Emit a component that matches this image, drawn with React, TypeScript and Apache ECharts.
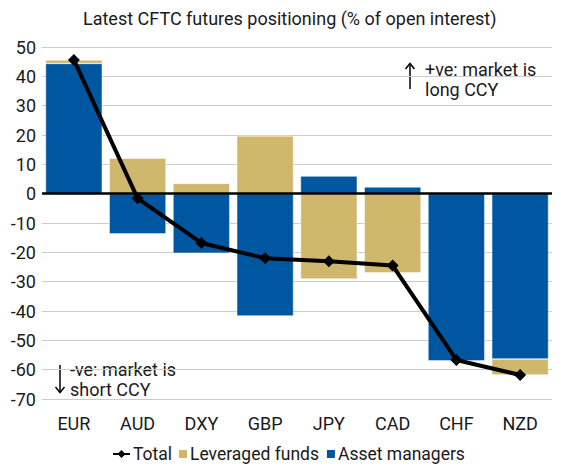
import React, { useEffect, useRef } from "react";
import * as echarts from "echarts";

const categories = ["EUR", "AUD", "DXY", "GBP", "JPY", "CAD", "CHF", "NZD"];
const assetManagers = [44.4, -13.7, -20.3, -41.7, 6.0, 2.3, -57.0, -56.4];
const leveragedFunds = [1.2, 12.1, 3.5, 19.7, -29.1, -27.0, 0.3, -5.4];
const total = [45.6, -1.6, -16.8, -22.0, -23.0, -24.5, -56.7, -61.8];

const BLUE = "#0057A1";
const TAN = "#CFB76C";
const FONT = "Roboto";
const TXT = "#1a1a1a";

export default function App() {
  const ref = useRef<HTMLDivElement>(null);
  useEffect(() => {
    if (!ref.current) return;
    const chart = echarts.init(ref.current, null, { renderer: "svg" });
    chart.setOption({
      animation: false,
      textStyle: { fontFamily: FONT },
      title: {
        text: "Latest CFTC futures positioning (% of open interest)",
        left: 78,
        top: 4,
        textStyle: { fontFamily: FONT, fontSize: 18, fontWeight: "normal", color: TXT },
      },
      grid: { left: 42, right: 9, top: 47, bottom: 69 },
      legend: [
        {
          left: 112,
          top: 445,
          padding: 0,
          itemWidth: 17,
          itemHeight: 10,
          textStyle: { fontFamily: FONT, fontSize: 17.5, color: TXT, padding: [0, 0, 0, -2] },
          data: [{ name: "Total" }],
        },
        {
          left: 177,
          top: 445,
          padding: 0,
          itemGap: 6,
          itemWidth: 10,
          itemHeight: 10,
          textStyle: { fontFamily: FONT, fontSize: 17.5, color: TXT, padding: [0, 0, 0, -3] },
          data: [
            { name: "Leveraged funds", icon: "rect" },
            { name: "Asset managers", icon: "rect" },
          ],
        },
      ],
      xAxis: {
        type: "category",
        data: categories,
        axisLine: { show: false },
        axisTick: { show: false },
        axisLabel: { fontFamily: FONT, fontSize: 18, color: TXT, margin: 15 },
      },
      yAxis: {
        type: "value",
        min: -70,
        max: 50,
        interval: 10,
        axisLabel: { fontFamily: FONT, fontSize: 18, color: TXT, margin: 6 },
        splitLine: { lineStyle: { color: "#cccccc", width: 1 } },
        axisLine: { show: false },
        axisTick: { show: false },
      },
      series: [
        {
          name: "Asset managers",
          type: "bar",
          stack: "a",
          data: assetManagers,
          barCategoryGap: "11%",
          itemStyle: { color: BLUE, borderColor: "#ffffff", borderWidth: 0.5 },
          markLine: {
            silent: true,
            symbol: "none",
            label: { show: false },
            lineStyle: { color: "#000", width: 2.7, type: "solid" },
            data: [{ yAxis: 0 }],
            z: 5,
          },
        },
        {
          name: "Leveraged funds",
          type: "bar",
          stack: "a",
          data: leveragedFunds,
          barCategoryGap: "11%",
          itemStyle: { color: TAN, borderColor: "#ffffff", borderWidth: 0.5 },
        },
        {
          name: "Total",
          type: "line",
          data: total,
          z: 10,
          symbol: "diamond",
          symbolSize: 12,
          lineStyle: { color: "#000", width: 4 },
          itemStyle: { color: "#000" },
        },
      ],
      graphic: [
        { type: "line", shape: { x1: 410, y1: 89, x2: 410, y2: 64 }, style: { stroke: "#000", lineWidth: 1.5 } },
        { type: "polyline", shape: { points: [[405.5, 69], [410, 63.5], [414.5, 69]] }, style: { stroke: "#000", lineWidth: 1.5, fill: null } },
        { type: "text", x: 425, y: 59, style: { text: "+ve: market is\nlong CCY", fontFamily: FONT, fontSize: 18, lineHeight: 20, fill: TXT } },
        { type: "line", shape: { x1: 60, y1: 365, x2: 60, y2: 392 }, style: { stroke: "#000", lineWidth: 1.5 } },
        { type: "polyline", shape: { points: [[55.5, 387], [60, 392.5], [64.5, 387]] }, style: { stroke: "#000", lineWidth: 1.5, fill: null } },
        { type: "text", x: 70, y: 359, style: { text: "-ve: market is\nshort CCY", fontFamily: FONT, fontSize: 18, lineHeight: 20, fill: TXT } },
      ],
    });
    return () => chart.dispose();
  }, []);
  return <div ref={ref} style={{ position: "absolute", left: 0, top: 0, width: 561, height: 468 }} />;
}
